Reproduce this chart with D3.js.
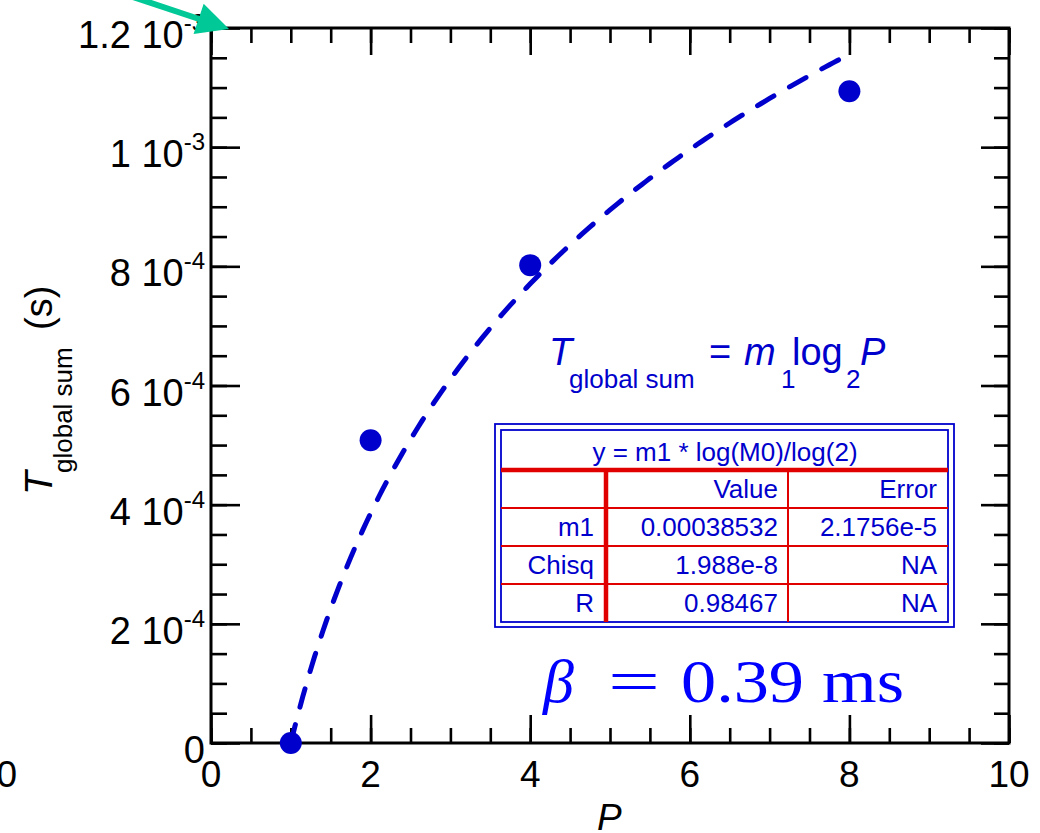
<!DOCTYPE html>
<html>
<head>
<meta charset="utf-8">
<script src="https://cdn.jsdelivr.net/npm/d3@7/dist/d3.min.js"></script>
<style>
  html, body { margin: 0; padding: 0; background: #fff; }
  svg { display: block; font-family: "Liberation Sans", Arial, sans-serif; }
</style>
</head>
<body>
<svg id="chart" width="1040" height="833"></svg>
<script>
// Measured global-sum times versus number of processes
const procs = [1, 2, 4, 8];
const tGlobalSum = [0, 5.08e-4, 8.02e-4, 1.094e-3];

// Fitted model T = m1 * log2(P)
const fitM1 = 0.00038532;
const fitRange = [1, 8];

// Axis ticks
const xMajor = [0, 2, 4, 6, 8, 10];
const xMinor = d3.range(0, 10.001, 0.5);
const yMajor = [0, 2e-4, 4e-4, 6e-4, 8e-4, 1e-3, 1.2e-3];
const yMinor = d3.range(0, 1.2e-3 + 1e-9, 0.5e-4);
const yMantissa = ["0", "2", "4", "6", "8", "1", "1.2"];
const yExponent = ["", "-4", "-4", "-4", "-4", "-3", "-3"];

// Fit report table
const fitHeader = "y = m1 * log(M0)/log(2)";
const fitRows = [
  ["", "Value", "Error"],
  ["m1", String(fitM1), "2.1756e-5"],
  ["Chisq", "1.988e-8", "NA"],
  ["R", "0.98467", "NA"]
];

const blue = "#0000cc";
const red = "#e00000";

const svg = d3.select("#chart");
const L = 211, R = 1009, T = 28, B = 743;
const x = d3.scaleLinear().domain([0, 10]).range([L, R]);
const y = d3.scaleLinear().domain([0, 1.2e-3]).range([B, T]);

// Inward ticks on all four sides
function tickAxis(axis, values, size, transform) {
  const g = svg.append("g").attr("transform", transform)
    .call(axis.tickValues(values).tickSize(size).tickFormat(""));
  g.select(".domain").remove();
  g.selectAll(".tick line").attr("stroke", "#000").attr("stroke-width", 2.6);
}
tickAxis(d3.axisBottom(x), xMinor, -15, `translate(0,${B})`);
tickAxis(d3.axisBottom(x), xMajor, -28, `translate(0,${B})`);
tickAxis(d3.axisTop(x), xMinor, -15, `translate(0,${T})`);
tickAxis(d3.axisTop(x), xMajor, -27, `translate(0,${T})`);
tickAxis(d3.axisLeft(y), yMinor, -16, `translate(${L},0)`);
tickAxis(d3.axisLeft(y), yMajor, -29, `translate(${L},0)`);
tickAxis(d3.axisRight(y), yMinor, -15, `translate(${R},0)`);
tickAxis(d3.axisRight(y), yMajor, -28, `translate(${R},0)`);

svg.append("rect")
  .attr("x", L).attr("y", T).attr("width", R - L).attr("height", B - T)
  .attr("fill", "none").attr("stroke", "#000").attr("stroke-width", 3);

// X tick labels
svg.append("g").selectAll("text").data(xMajor).join("text")
  .attr("x", d => x(d)).attr("y", B + 44)
  .attr("text-anchor", "middle").attr("font-size", 37)
  .text(d => d);

// Y tick labels with exponent superscripts
const yl = svg.append("g").selectAll("text").data(yMajor).join("text")
  .attr("x", L - 6).attr("y", d => y(d) + 20)
  .attr("text-anchor", "end").attr("font-size", 38);
yl.append("tspan").text((d, i) => yMantissa[i] + (yExponent[i] ? " 10" : ""));
yl.append("tspan").attr("font-size", 24).attr("dy", -17)
  .text((d, i) => yExponent[i]);

// Stray zero at far left
svg.append("text").attr("x", 17).attr("y", 787)
  .attr("text-anchor", "end").attr("font-size", 37).text("0");

// Axis titles
svg.append("text").attr("x", 597).attr("y", 830)
  .attr("font-size", 37).attr("font-style", "italic").text("P");

const yt = svg.append("g").attr("transform", "translate(52,493) rotate(-90)");
yt.append("text").attr("x", -2).attr("y", 0)
  .attr("font-size", 39).attr("font-style", "italic").text("T");
yt.append("text").attr("x", 20).attr("y", 20)
  .attr("font-size", 26).text("global sum");
yt.append("text").attr("x", 163).attr("y", 0)
  .attr("font-size", 38).text("(s)");

// Fitted curve
const fitPts = d3.range(fitRange[0], fitRange[1] + 1e-9, 0.05)
  .map(p => [p, fitM1 * Math.log2(p)]);
svg.append("path")
  .datum(fitPts)
  .attr("fill", "none").attr("stroke", blue)
  .attr("stroke-width", 5).attr("stroke-linecap", "round")
  .attr("stroke-dasharray", "19,18")
  .attr("d", d3.line().x(d => x(d[0])).y(d => y(d[1])));

// Data points
svg.append("g").selectAll("circle").data(procs).join("circle")
  .attr("cx", d => x(d)).attr("cy", (d, i) => y(tGlobalSum[i]))
  .attr("r", 11).attr("fill", blue);

// Model equation
const eq = svg.append("g").attr("fill", blue);
eq.append("text").attr("x", 549).attr("y", 365).attr("font-size", 38)
  .attr("font-style", "italic").text("T");
eq.append("text").attr("x", 569).attr("y", 388).attr("font-size", 26).text("global sum");
eq.append("text").attr("x", 709).attr("y", 365).attr("font-size", 38).text("=");
eq.append("text").attr("x", 744).attr("y", 365).attr("font-size", 38)
  .attr("font-style", "italic").text("m");
eq.append("text").attr("x", 781).attr("y", 388).attr("font-size", 26).text("1");
eq.append("text").attr("x", 792).attr("y", 365).attr("font-size", 38).text("log");
eq.append("text").attr("x", 846).attr("y", 388).attr("font-size", 26).text("2");
eq.append("text").attr("x", 860).attr("y", 365).attr("font-size", 38)
  .attr("font-style", "italic").text("P");

// Fit report table
const tb = svg.append("g");
tb.append("rect").attr("x", 495).attr("y", 424).attr("width", 459).attr("height", 203)
  .attr("fill", "#fff").attr("stroke", blue).attr("stroke-width", 1.8);
tb.append("rect").attr("x", 501).attr("y", 430).attr("width", 447).attr("height", 192)
  .attr("fill", "none").attr("stroke", blue).attr("stroke-width", 1.8);
[508, 546, 584].forEach(yy => tb.append("line")
  .attr("x1", 501).attr("x2", 948).attr("y1", yy).attr("y2", yy)
  .attr("stroke", red).attr("stroke-width", 2));
tb.append("line").attr("x1", 788).attr("x2", 788).attr("y1", 470).attr("y2", 622)
  .attr("stroke", red).attr("stroke-width", 2);
tb.append("line").attr("x1", 606).attr("x2", 606).attr("y1", 470).attr("y2", 622)
  .attr("stroke", red).attr("stroke-width", 4.5);
tb.append("line").attr("x1", 501).attr("x2", 948).attr("y1", 470).attr("y2", 470)
  .attr("stroke", red).attr("stroke-width", 4.5);

tb.append("text").attr("x", 725).attr("y", 461)
  .attr("text-anchor", "middle").attr("font-size", 26).attr("fill", blue)
  .text(fitHeader);
const colRight = [594, 778, 937];
const rowBase = [498, 536, 574, 612];
fitRows.forEach((row, ri) => row.forEach((cell, ci) => {
  tb.append("text")
    .attr("x", colRight[ci]).attr("y", rowBase[ri])
    .attr("text-anchor", "end").attr("font-size", 26).attr("fill", blue)
    .text(cell);
}));

// Beta annotation
const bt = svg.append("g").attr("fill", "#0000ff")
  .attr("font-family", "'Liberation Serif', 'DejaVu Serif', serif").attr("font-size", 62);
bt.append("text").attr("x", 543).attr("y", 702).attr("font-style", "italic").text("β");
bt.append("text").attr("x", 608).attr("y", 702).attr("textLength", 52)
  .attr("lengthAdjust", "spacingAndGlyphs").text("=");
bt.append("text").attr("x", 681).attr("y", 702).attr("textLength", 123)
  .attr("lengthAdjust", "spacingAndGlyphs").text("0.39");
bt.append("text").attr("x", 822).attr("y", 702).attr("textLength", 82)
  .attr("lengthAdjust", "spacingAndGlyphs").text("ms");

// Pointer arrow at the top-left corner
const arrowColor = "#00c896";
const tip = [229, 29];
const tail = [118, -8];
const ang = Math.atan2(tip[1] - tail[1], tip[0] - tail[0]);
const headLen = 32, headHalf = 16;
const base = [tip[0] - headLen * Math.cos(ang), tip[1] - headLen * Math.sin(ang)];
svg.append("line")
  .attr("x1", tail[0]).attr("y1", tail[1]).attr("x2", base[0] + 2 * Math.cos(ang)).attr("y2", base[1] + 2 * Math.sin(ang))
  .attr("stroke", arrowColor).attr("stroke-width", 6);
svg.append("path").attr("fill", arrowColor).attr("d", d3.line()([
  tip,
  [base[0] + headHalf * Math.sin(ang), base[1] - headHalf * Math.cos(ang)],
  [base[0] - headHalf * Math.sin(ang), base[1] + headHalf * Math.cos(ang)]
]) + "Z");
</script>
</body>
</html>
